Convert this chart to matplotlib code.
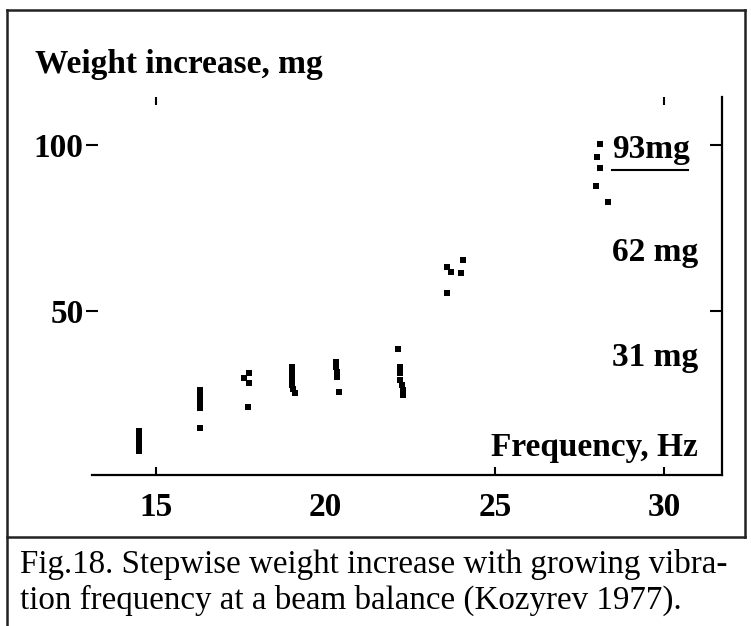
import numpy as np
import matplotlib
matplotlib.use('Agg')
import matplotlib.pyplot as plt
from matplotlib.lines import Line2D

# pontos (frequencia em Hz, aumento de peso em mg)
freq_hz = [14.5, 14.5, 14.5, 14.5, 14.5,
           16.3, 16.3, 16.3, 16.3, 16.3, 16.3,
           17.75, 17.6, 17.75, 17.7,
           19.0, 19.0, 19.0, 19.0, 19.0, 19.05, 19.1,
           20.3, 20.3, 20.35, 20.35, 20.4,
           22.15, 22.2, 22.2, 22.2, 22.25, 22.3, 22.3,
           23.6, 23.7, 24.0, 24.05, 23.6,
           28.1, 28.0, 28.1, 27.98, 28.33]
weight_mg = [14.0, 12.5, 11.0, 9.5, 8.0,
             26.4, 24.9, 23.7, 22.5, 21.0, 15.0,
             31.5, 30.0, 28.5, 21.3,
             33.3, 31.8, 30.6, 29.1, 27.9, 26.7, 25.5,
             34.8, 33.3, 31.8, 30.3, 25.8,
             38.7, 33.3, 31.5, 29.4, 27.9, 26.4, 24.9,
             63.4, 61.8, 61.5, 65.5, 55.6,
             100.3, 96.4, 93.1, 87.7, 82.9]

xticks = [15, 20, 25, 30]
yticks = [50, 100]
degraus = ['93mg', '62 mg', '31 mg']
degraus_y = [98.5, 67.6, 36.3]

W, H = 751, 626
fig = plt.figure(figsize=(W / 100, H / 100), dpi=100)
serif = ['Liberation Serif', 'DejaVu Serif']

ax = fig.add_axes([92 / W, 1 - 475 / H, (722 - 92) / W, (475 - 97) / H])
ax.scatter(freq_hz, weight_mg, s=22, marker='s', color='black', linewidths=0)
ax.set_xlim(13.11, 31.70)
ax.set_ylim(0.9, 114.4)

ax.spines['left'].set_visible(False)
ax.spines['top'].set_visible(False)
ax.spines['bottom'].set_linewidth(1.6)
ax.spines['right'].set_linewidth(1.6)

ax.set_xticks(xticks)
ax.set_xticklabels([str(v) for v in xticks], family=serif, fontweight='bold', fontsize=24)
ax.tick_params(axis='x', direction='in', length=6, width=1.5, top=True, pad=12)
for t, v in zip(ax.xaxis.get_major_ticks(), xticks):
    if v == 20:
        t.tick1line.set_visible(False)
    if v not in (15, 30):
        t.tick2line.set_visible(False)

ax.set_yticks(yticks)
ax.set_yticklabels([str(v) for v in yticks], family=serif, fontweight='bold', fontsize=24)
ax.tick_params(axis='y', direction='inout', length=8, width=1.5, pad=2)

ax2 = ax.twinx()
ax2.set_ylim(ax.get_ylim())
ax2.set_yticks(yticks)
ax2.tick_params(axis='y', direction='in', length=9, width=1.5, labelright=False)
for s in ax2.spines.values():
    s.set_visible(False)

for txt, yv in zip(degraus, degraus_y):
    ax.text(28.45, yv, txt, family=serif, fontweight='bold', fontsize=24, va='center', ha='left')
ax.plot([28.45, 30.7], [92.5, 92.5], color='black', lw=1.5)
ax.text(31.0, 9.3, 'Frequency, Hz', family=serif, fontweight='bold', fontsize=24,
        va='center', ha='right')

fig.text(35 / W, 1 - 65 / H, 'Weight increase, mg', family=serif, fontweight='bold',
         fontsize=24, va='center', ha='left')

fig.text(20 / W, 1 - 565 / H, 'Fig.18. Stepwise weight increase with growing vibra-',
         family=serif, fontsize=23.8, va='center', ha='left')
fig.text(20 / W, 1 - 600 / H, 'tion frequency at a beam balance (Kozyrev 1977).',
         family=serif, fontsize=23.8, va='center', ha='left')

# moldura
def linha(x0, y0, x1, y1):
    fig.add_artist(Line2D([x0 / W, x1 / W], [1 - y0 / H, 1 - y1 / H], color='#222222', lw=1.8))

linha(7, 10, 745, 10)
linha(7, 10, 7, 626)
linha(745, 10, 745, 537)
linha(7, 537, 745, 537)

fig.savefig('out.png', dpi=100)
